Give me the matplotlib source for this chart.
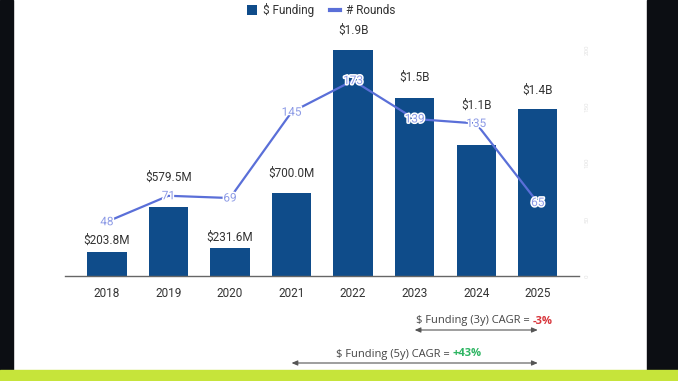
import matplotlib
matplotlib.use("Agg")
import matplotlib.pyplot as plt
from matplotlib.patches import Rectangle, Patch
from matplotlib.lines import Line2D
import matplotlib.patheffects as pe

plt.rcParams['font.family'] = ['Roboto', 'DejaVu Sans']

# ---- data ----
years = ["2018", "2019", "2020", "2021", "2022", "2023", "2024", "2025"]
funding_b = [0.2038, 0.5795, 0.2316, 0.700, 1.9, 1.5, 1.1, 1.4]
funding_labels = ["$203.8M", "$579.5M", "$231.6M", "$700.0M", "$1.9B", "$1.5B", "$1.1B", "$1.4B"]
rounds = [48, 71, 69, 145, 173, 139, 135, 65]
cagr_3y = "-3%"
cagr_5y = "+43%"

# ---- styles ----
label_offsets_px = [11, 30, 11, 19, 20, 20, 40, 19]
bar_color = "#0f4c8a"
line_color = "#5a6fd8"
W, H = 678, 381

fig = plt.figure(figsize=(W / 100, H / 100), dpi=100)
fig.patch.set_facecolor("white")
# frame: black side strips and lime bottom strip
fig.patches.append(Rectangle((0, 0), 13 / W, 1, transform=fig.transFigure, color="#0c0e13", zorder=0))
fig.patches.append(Rectangle((647 / W, 0), 1 - 647 / W, 1, transform=fig.transFigure, color="#0c0e13", zorder=0))
fig.patches.append(Rectangle((0, 0), 1, 11 / H, transform=fig.transFigure, color="#c6e43a", zorder=1))

ax = fig.add_axes([65 / W, 1 - 276 / H, (579 - 65) / W, (276 - 45) / H])
ax.set_facecolor("none")
x = list(range(len(years)))
ax.bar(x, funding_b, width=0.64, color=bar_color, zorder=2)
ax.set_xlim(-0.68, 7.67)
ax.set_ylim(0, 231 / 119)
for s in ["top", "right", "left"]:
    ax.spines[s].set_visible(False)
ax.spines["bottom"].set_color("#666666")
ax.spines["bottom"].set_linewidth(1)
ax.set_xticks(x)
ax.set_xticklabels(years, fontsize=8.5, color="#333333")
ax.tick_params(axis="x", length=0, pad=8)
ax.set_yticks([])

for xi, v, lab, off in zip(x, funding_b, funding_labels, label_offsets_px):
    ax.annotate(lab, (xi, v), xytext=(0, off), textcoords="offset pixels",
                ha="center", va="center", fontsize=8.5, color="#333333")

ax2 = ax.twinx()
ax2.set_ylim(0, 231 / 1.13)
for s in ["top", "right", "left", "bottom"]:
    ax2.spines[s].set_visible(False)
ax2.plot(x, rounds, color=line_color, lw=1.6, zorder=3)
ax2.set_yticks([0, 50, 100, 150, 200])
ax2.set_yticklabels(["0", "50", "100", "150", "200"], fontsize=4.5, color="#e2e2e2", rotation=90, va="center")
ax2.tick_params(axis="y", length=0, pad=4)
for xi, r in zip(x, rounds):
    ax2.text(xi, r, str(r), ha="center", va="center", fontsize=8.5, color="#8d9be6", zorder=4,
             path_effects=[pe.withStroke(linewidth=2.2, foreground="white")])

# legend
handles = [Patch(facecolor=bar_color, edgecolor="none"),
           Line2D([0], [0], color=line_color, lw=3)]
fig.legend(handles, ["$ Funding", "# Rounds"], loc="center", bbox_to_anchor=(321 / W, 1 - 10 / H),
           ncol=2, frameon=False, fontsize=8.5, handlelength=0.9, handleheight=0.9,
           handletextpad=0.5, columnspacing=1.3, labelcolor="#333333")

# CAGR annotations
cfont = ['Liberation Sans Narrow', 'Open Sans', 'DejaVu Sans']
renderer = fig.canvas.get_renderer()

def cagr_text(xc_px, y_px, main, val, col):
    t1 = fig.text(0, y_px / H, main, fontsize=8, family=cfont, color="#444444", va="center", ha="left")
    t2 = fig.text(0, y_px / H, val, fontsize=8, family=cfont, color=col, weight="bold", va="center", ha="left")
    w1 = t1.get_window_extent(renderer).width
    w2 = t2.get_window_extent(renderer).width
    x0 = xc_px - (w1 + w2) / 2
    t1.set_x(x0 / W)
    t2.set_x((x0 + w1) / W)

cagr_text(484, H - 321, "$ Funding (3y) CAGR = ", cagr_3y, "#d8353b")
cagr_text(409, H - 354, "$ Funding (5y) CAGR = ", cagr_5y, "#2db562")

arrow = dict(arrowstyle="<|-|>,head_length=0.35,head_width=0.15", color="#555555", lw=0.8,
             shrinkA=0, shrinkB=0)
ax.annotate("", xy=(7, H - 330), xytext=(5, H - 330), xycoords=("data", "figure pixels"),
            textcoords=("data", "figure pixels"), arrowprops=arrow, annotation_clip=False)
ax.annotate("", xy=(7, H - 363), xytext=(3, H - 363), xycoords=("data", "figure pixels"),
            textcoords=("data", "figure pixels"), arrowprops=arrow, annotation_clip=False)

fig.savefig("out.png", dpi=100)
